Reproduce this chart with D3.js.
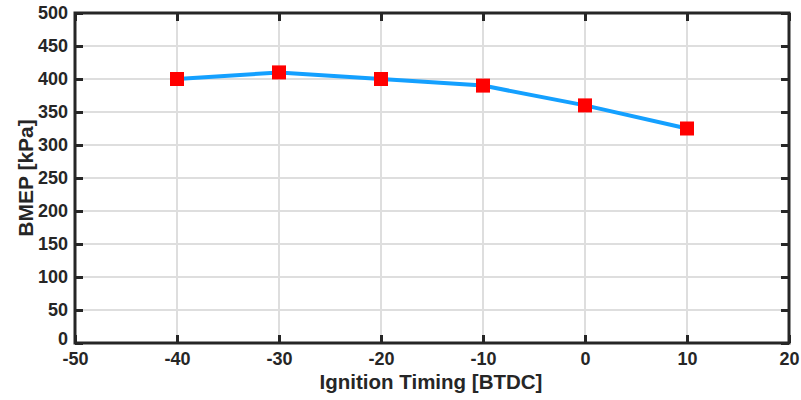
<!DOCTYPE html>
<html>
<head>
<meta charset="utf-8">
<script src="https://cdn.jsdelivr.net/npm/d3@7"></script>
<style>
  body { margin: 0; background: #fff; }
  text { font-family: "Liberation Sans", Arial, sans-serif; font-weight: bold; fill: #262626; }
</style>
</head>
<body>
<script>
// data
var timing = [-40, -30, -20, -10, 0, 10];
var bmep = [400, 410, 400, 390, 360, 325];
var xTicks = [-50, -40, -30, -20, -10, 0, 10, 20];
var yTicks = [0, 50, 100, 150, 200, 250, 300, 350, 400, 450, 500];

var W = 801, H = 400;
var margin = {left: 75, right: 12, top: 13, bottom: 57};
var width = W - margin.left - margin.right,
    height = H - margin.top - margin.bottom;

var svg = d3.select("body").append("svg")
    .attr("width", W).attr("height", H);
var g = svg.append("g")
    .attr("transform", "translate(" + margin.left + "," + margin.top + ")");

var x = d3.scaleLinear().domain([-50, 20]).range([0, width]);
var y = d3.scaleLinear().domain([0, 500]).range([height, 0]);

// plain hyphen for negatives, like the original
var fmt = d => String(d);

// grid
g.selectAll(".gx").data(xTicks).enter().append("line")
    .attr("x1", d => x(d)).attr("x2", d => x(d))
    .attr("y1", 0).attr("y2", height)
    .style("stroke", "#dedede").style("stroke-width", 2);
g.selectAll(".gy").data(yTicks).enter().append("line")
    .attr("y1", d => y(d)).attr("y2", d => y(d))
    .attr("x1", 0).attr("x2", width)
    .style("stroke", "#dedede").style("stroke-width", 2);

// axes (ticks pointing inward, on all four sides)
function styleAxis(sel) {
  sel.select(".domain").remove();
  sel.selectAll(".tick line").style("stroke", "#262626").style("stroke-width", 3);
  sel.selectAll("text").style("font-size", "18px").style("font-family", "Liberation Sans, Arial, sans-serif")
     .style("font-weight", "bold").style("fill", "#262626");
}
var xb = g.append("g").attr("transform", "translate(0," + height + ")")
    .call(d3.axisBottom(x).tickValues(xTicks).tickSize(-8).tickPadding(9).tickFormat(fmt));
styleAxis(xb);
var yl = g.append("g")
    .call(d3.axisLeft(y).tickValues(yTicks).tickSize(-8).tickPadding(7).tickFormat(fmt));
styleAxis(yl);
// lift the bottom "0" a little so it clears "-50"
yl.selectAll(".tick text").filter(d => d === 0).attr("dy", "0.1em");
var xt = g.append("g")
    .call(d3.axisTop(x).tickValues(xTicks).tickSize(-8).tickFormat(""));
styleAxis(xt);
var yr = g.append("g").attr("transform", "translate(" + width + ",0)")
    .call(d3.axisRight(y).tickValues(yTicks).tickSize(-8).tickFormat(""));
styleAxis(yr);

// box
g.append("rect").attr("x", 0).attr("y", 0).attr("width", width).attr("height", height)
    .style("fill", "none").style("stroke", "#262626").style("stroke-width", 3);

// series
var pts = timing.map((t, i) => ({t: t, v: bmep[i]}));
g.append("path").datum(pts)
    .attr("d", d3.line().x(d => x(d.t)).y(d => y(d.v)))
    .style("fill", "none").style("stroke", "#14a0ff").style("stroke-width", 4);
var ms = 14;
g.selectAll(".m").data(pts).enter().append("rect")
    .attr("x", d => x(d.t) - ms / 2).attr("y", d => y(d.v) - ms / 2)
    .attr("width", ms).attr("height", ms)
    .style("fill", "#ff0000");

// labels
svg.append("text")
    .attr("x", margin.left + width / 2 - 1).attr("y", 389)
    .attr("text-anchor", "middle").style("font-size", "20.5px")
    .text("Ignition Timing [BTDC]");
svg.append("text")
    .attr("transform", "translate(33," + (margin.top + height / 2) + ") rotate(-90)")
    .attr("text-anchor", "middle").style("font-size", "21px")
    .text("BMEP [kPa]");
</script>
</body>
</html>
